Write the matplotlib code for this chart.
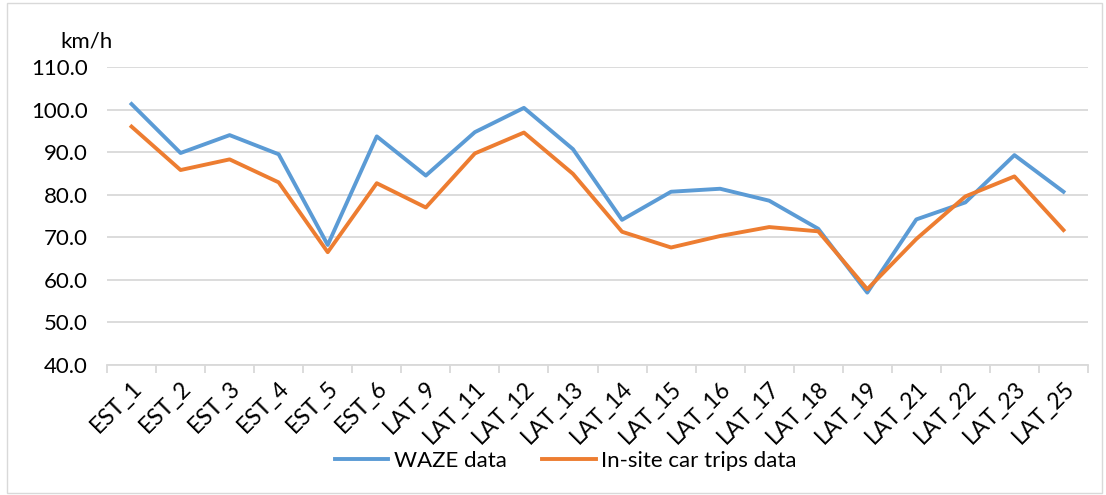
import matplotlib
matplotlib.use("Agg")
import matplotlib.pyplot as plt
from matplotlib.patches import Rectangle
import numpy as np

categories = ["EST_1", "EST_2", "EST_3", "EST_4", "EST_5", "EST_6", "LAT_9", "LAT_11",
              "LAT_12", "LAT_13", "LAT_14", "LAT_15", "LAT_16", "LAT_17", "LAT_18",
              "LAT_19", "LAT_21", "LAT_22", "LAT_23", "LAT_25"]
waze = [101.3, 89.8, 94.0, 89.5, 68.2, 93.7, 84.5, 94.7, 100.4, 90.7,
        74.1, 80.7, 81.4, 78.6, 72.0, 57.0, 74.2, 78.2, 89.3, 80.7]
insite = [96.0, 85.8, 88.3, 82.9, 66.5, 82.7, 77.0, 89.7, 94.6, 84.9,
          71.3, 67.6, 70.3, 72.4, 71.4, 57.8, 69.6, 79.6, 84.3, 71.7]
yticks = [40, 50, 60, 70, 80, 90, 100, 110]

plt.rcParams['font.family'] = ['Lato', 'DejaVu Sans']

fig = plt.figure(figsize=(11.06, 4.95), dpi=100)
ax = fig.add_axes([107/1106, 1 - 365/495, (1088-107)/1106, (365-67)/495])

x = np.arange(len(categories))
ax.plot(x, waze, color="#5B9BD5", lw=2.8, label="WAZE data", solid_joinstyle='round')
ax.plot(x, insite, color="#ED7D31", lw=2.8, label="In-site car trips data", solid_joinstyle='round')

ax.set_xlim(-0.5, len(categories) - 0.5)
ax.set_ylim(40, 110)
ax.set_yticks(yticks)
ax.set_yticklabels([f"{v:.1f}" for v in yticks], fontsize=16, color="#000000")
ax.yaxis.grid(True, color="#D9D9D9", lw=1.3)
ax.set_axisbelow(True)
ax.tick_params(axis='y', length=0, pad=14)

ax.set_xticks(np.arange(-0.5, len(categories), 1.0))
ax.set_xticklabels([])
ax.set_xticks(x, minor=True)
ax.set_xticklabels(categories, minor=True, rotation=45, ha='right', rotation_mode='anchor', fontsize=16.5)
ax.tick_params(axis='x', which='major', length=6, color="#D9D9D9", width=1.3)
ax.tick_params(axis='x', which='minor', length=0, pad=9)

for s in ['left', 'right', 'top']:
    ax.spines[s].set_visible(False)
ax.spines['bottom'].set_color("#D9D9D9")
ax.spines['bottom'].set_linewidth(1.3)

fig.text(87/1106, 1 - 41/495, "km/h", fontsize=16, ha='center', va='center')

fig.legend(loc='center', bbox_to_anchor=(566/1106, 1 - 461/495), ncol=2, frameon=False,
           fontsize=16, handlelength=2.4, columnspacing=1.6, handletextpad=0.25)

fig.patches.append(Rectangle((0.006, 0.004), 0.99, 0.99, transform=fig.transFigure,
                             fill=False, edgecolor="#D9D9D9", lw=1.0))

fig.savefig("out.png", dpi=100)
